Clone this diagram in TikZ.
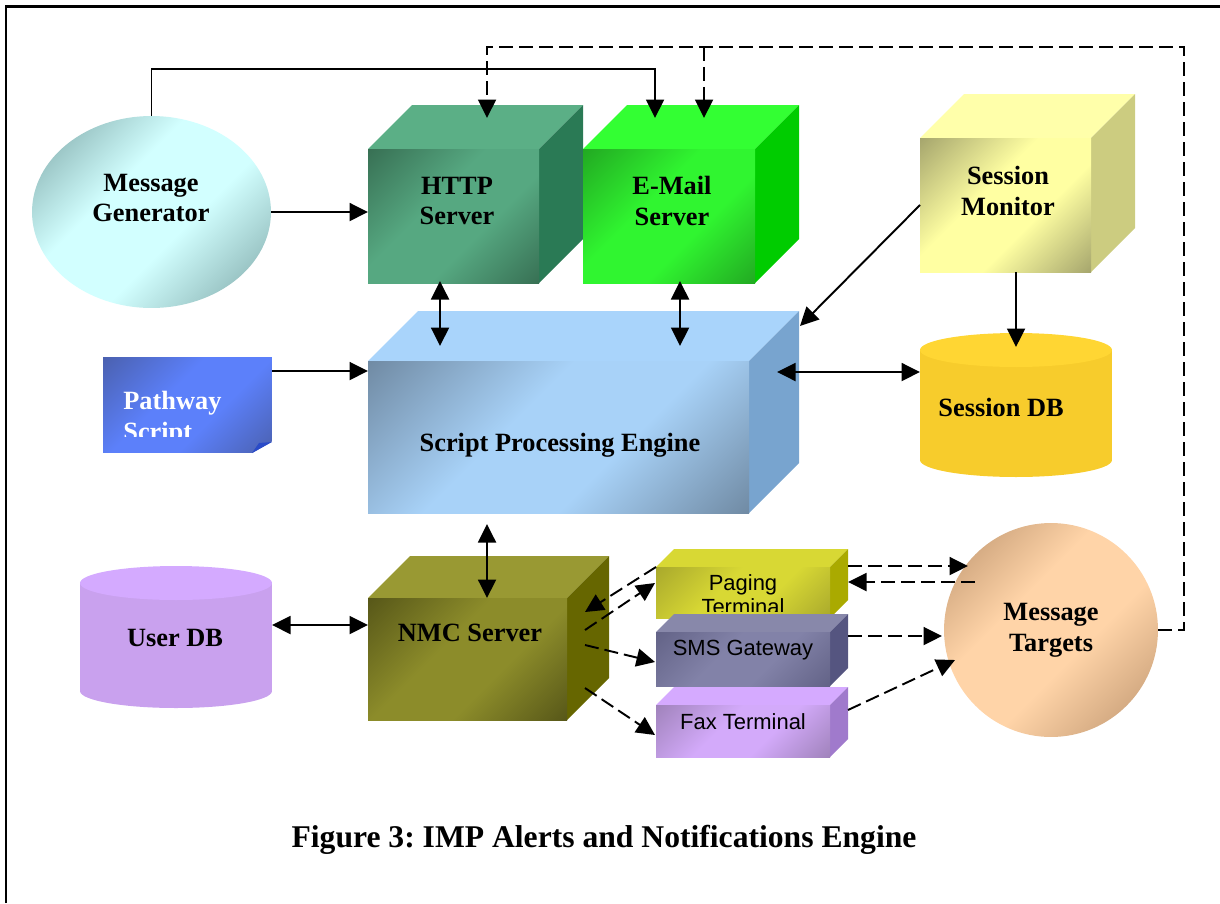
\documentclass[tikz,border=0pt]{standalone}
\usepackage{fontspec}
\setmainfont{Liberation Serif}
\newfontfamily\termfont{Liberation Sans}
\usetikzlibrary{arrows.meta,shapes.geometric}

\definecolor{httptop}{HTML}{5BAF86}
\definecolor{httpside}{HTML}{2A7A55}
\definecolor{httplight}{HTML}{56A881}
\definecolor{httpdark}{HTML}{376F53}
\definecolor{mailtop}{HTML}{33FF33}
\definecolor{mailside}{HTML}{00CC00}
\definecolor{maillight}{HTML}{30F530}
\definecolor{maildark}{HTML}{22A822}
\definecolor{montop}{HTML}{FFFFAA}
\definecolor{monside}{HTML}{CCCC80}
\definecolor{monlight}{HTML}{FFFFA2}
\definecolor{mondark}{HTML}{A4A46C}
\definecolor{engtop}{HTML}{A9D4FB}
\definecolor{engside}{HTML}{78A4CF}
\definecolor{englight}{HTML}{A8D2F8}
\definecolor{engdark}{HTML}{6F89A2}
\definecolor{nmctop}{HTML}{999933}
\definecolor{nmcside}{HTML}{666600}
\definecolor{nmclight}{HTML}{8C8C2A}
\definecolor{nmcdark}{HTML}{565618}
\definecolor{pagetop}{HTML}{D8D834}
\definecolor{pageside}{HTML}{AAAA00}
\definecolor{pagelight}{HTML}{D8D834}
\definecolor{pagedark}{HTML}{A8A82C}
\definecolor{smstop}{HTML}{8888AA}
\definecolor{smsside}{HTML}{555580}
\definecolor{smslight}{HTML}{8282A8}
\definecolor{smsdark}{HTML}{626286}
\definecolor{faxtop}{HTML}{D5AAFF}
\definecolor{faxside}{HTML}{A07ACC}
\definecolor{faxlight}{HTML}{D3AAFA}
\definecolor{faxdark}{HTML}{9F82BA}
\definecolor{genlight}{HTML}{D2FFFF}
\definecolor{gendark}{HTML}{7FA8A8}
\definecolor{tgtlight}{HTML}{FFD4A8}
\definecolor{tgtdark}{HTML}{BF9670}
\definecolor{pathlight}{HTML}{5C80FA}
\definecolor{pathdark}{HTML}{4A60AE}
\definecolor{pathfold}{HTML}{2A4BC8}
\definecolor{sdbtop}{HTML}{FFD633}
\definecolor{sdbbody}{HTML}{F7CC2C}
\definecolor{udbtop}{HTML}{D4AAFF}
\definecolor{udbbody}{HTML}{C9A1EE}

\pgfdeclarehorizontalshading{httpface}{100bp}{color(0bp)=(httpdark); color(14bp)=(httpdark); color(42bp)=(httplight); color(60bp)=(httplight); color(86bp)=(httpdark); color(100bp)=(httpdark)}
\pgfdeclarehorizontalshading{mailface}{100bp}{color(0bp)=(maildark); color(14bp)=(maildark); color(42bp)=(maillight); color(60bp)=(maillight); color(86bp)=(maildark); color(100bp)=(maildark)}
\pgfdeclarehorizontalshading{monface}{100bp}{color(0bp)=(mondark); color(14bp)=(mondark); color(42bp)=(monlight); color(60bp)=(monlight); color(86bp)=(mondark); color(100bp)=(mondark)}
\pgfdeclarehorizontalshading{engface}{100bp}{color(0bp)=(engdark); color(14bp)=(engdark); color(42bp)=(englight); color(60bp)=(englight); color(86bp)=(engdark); color(100bp)=(engdark)}
\pgfdeclarehorizontalshading{nmcface}{100bp}{color(0bp)=(nmcdark); color(14bp)=(nmcdark); color(42bp)=(nmclight); color(60bp)=(nmclight); color(86bp)=(nmcdark); color(100bp)=(nmcdark)}
\pgfdeclarehorizontalshading{pageface}{100bp}{color(0bp)=(pagedark); color(14bp)=(pagedark); color(42bp)=(pagelight); color(60bp)=(pagelight); color(86bp)=(pagedark); color(100bp)=(pagedark)}
\pgfdeclarehorizontalshading{smsface}{100bp}{color(0bp)=(smsdark); color(14bp)=(smsdark); color(42bp)=(smslight); color(60bp)=(smslight); color(86bp)=(smsdark); color(100bp)=(smsdark)}
\pgfdeclarehorizontalshading{faxface}{100bp}{color(0bp)=(faxdark); color(14bp)=(faxdark); color(42bp)=(faxlight); color(60bp)=(faxlight); color(86bp)=(faxdark); color(100bp)=(faxdark)}
\pgfdeclarehorizontalshading{genface}{100bp}{color(0bp)=(gendark); color(16bp)=(gendark); color(40bp)=(genlight); color(58bp)=(genlight); color(84bp)=(gendark); color(100bp)=(gendark)}
\pgfdeclarehorizontalshading{tgtface}{100bp}{color(0bp)=(tgtdark); color(16bp)=(tgtdark); color(40bp)=(tgtlight); color(58bp)=(tgtlight); color(84bp)=(tgtdark); color(100bp)=(tgtdark)}
\pgfdeclarehorizontalshading{pathface}{100bp}{color(0bp)=(pathdark); color(14bp)=(pathdark); color(42bp)=(pathlight); color(60bp)=(pathlight); color(86bp)=(pathdark); color(100bp)=(pathdark)}

\tikzset{
  front/.style={inner sep=0pt, outer sep=0pt},
  lbl/.style={font=\fontsize{15}{17.5}\selectfont\bfseries, align=center, inner sep=0pt},
  termlbl/.style={font=\termfont\fontsize{12.5}{13.5}\selectfont, align=center, inner sep=0pt},
  arr/.style={line width=1.1pt, -{Triangle[length=0.37cm,width=0.36cm]}},
  dbl/.style={line width=1.1pt, {Triangle[length=0.37cm,width=0.36cm]}-{Triangle[length=0.37cm,width=0.36cm]}},
  darr/.style={arr, dash pattern=on 0.28cm off 0.12cm},
}

% name, left, top, width, height, depth, colour prefix (all in px)
\newcommand{\drawcube}[7]{%
  \fill[#7top] (#2,#3) -- ++(#6,-#6) -- ++(#4,0) -- ++(-#6,#6) -- cycle;
  \fill[#7side] (#2+#4,#3) -- ++(#6,-#6) -- ++(0,#5) -- ++(-#6,#6) -- cycle;
  \node[front, shading=#7face, shading angle=-45,
    minimum width=#4*0.02cm, minimum height=#5*0.02cm]
    (#1) at (#2+#4/2,#3+#5/2) {};
}

% name, centre x, top y, bottom y, colour prefix (width 192 px)
\newcommand{\drawdb}[5]{%
  \fill[#5body] (#2-96,#3) rectangle (#2+96,#4);
  \fill[#5body] (#2,#4) ellipse [x radius=1.92cm, y radius=0.34cm];
  \fill[#5top] (#2,#3) ellipse [x radius=1.92cm, y radius=0.34cm];
  \node[front, minimum width=3.84cm, minimum height=(#4-#3+34)*0.02cm]
    (#1) at (#2,#3/2+#4/2) {};
}

\begin{document}
\begin{tikzpicture}[x=0.02cm,y=-0.02cm]
  \useasboundingbox (0,0) rectangle (1220,903);
  \draw[line width=0.06cm] (6,903) -- (6,6) -- (1220,6);

  % boxes
  \drawcube{http}{368}{149}{171}{134}{44}{http}
  \drawcube{email}{583}{149}{172}{134}{44}{mail}
  \drawcube{monitor}{920}{138}{171}{134}{44}{mon}
  \drawcube{engine}{368}{361}{381}{152}{50}{eng}
  \drawcube{nmc}{368}{598}{199}{122}{42}{nmc}
  \drawcube{paging}{656}{567}{174}{51}{18}{page}
  \drawcube{sms}{656}{632}{174}{54}{18}{sms}
  \drawcube{fax}{656}{705}{174}{52}{18}{fax}
  \drawdb{sessdb}{1016}{350}{460}{sdb}
  \drawdb{userdb}{176}{583}{691}{udb}

  \node[ellipse, inner sep=0pt, minimum width=4.78cm, minimum height=3.84cm,
    shading=genface, shading angle=-45] (gen) at (151.5,212) {};
  \node[circle, inner sep=0pt, minimum size=4.28cm,
    shading=tgtface, shading angle=-45] (targets) at (1051,630) {};
  \node[front, minimum width=3.38cm, minimum height=1.92cm,
    shading=pathface, shading angle=-45] (script) at (187.5,405) {};
  \fill[white] (251,454) -- (273,454) -- (273,441) -- cycle;
  \fill[pathfold] (252,453) -- (272,442) -- (259,443) -- cycle;

  % texts
  \node[lbl] (gentext) at (151,198) {Message\\Generator};
  \node[lbl] (httptext) at (457,201) {HTTP\\Server};
  \node[lbl] (mailtext) at (672,201) {E-Mail\\Server};
  \node[lbl] (montext) at (1008,191) {Session\\Monitor};
  \node[lbl] (enginetext) at (560,445) {Script Processing Engine};
  \node[lbl] (sessdbtext) at (1001,407) {Session DB};
  \node[lbl] (userdbtext) at (175,638) {User DB};
  \node[lbl] (nmctext) at (470,633) {NMC Server};
  \node[lbl] (targetstext) at (1051,630) {Message\\Targets};
  \begin{scope}
    \clip (103,357) rectangle (272,436);
    \node[lbl, text=white, align=left, anchor=west] (scripttext) at (123,419) {Pathway\\Script};
  \end{scope}
  \begin{scope}
    \clip (656,567) rectangle (830,611);
    \node[termlbl] (pagingtext) at (743,595) {Paging\\Terminal};
  \end{scope}
  \node[termlbl] (smstext) at (743,650) {SMS Gateway};
  \node[termlbl] (faxtext) at (743,722) {Fax Terminal};
  \node[font=\fontsize{18}{20}\selectfont\bfseries] (caption) at (604,840)
    {Figure 3:\ IMP Alerts and Notifications Engine};

  % connector ends
  \coordinate (mailA) at (655,118);
  \coordinate (httpB) at (487,118);
  \coordinate (mailB) at (704,118);
  \coordinate (httpS) at (440,281);
  \coordinate (engA) at (440,346);
  \coordinate (mailS) at (680,281);
  \coordinate (engB) at (680,346);
  \coordinate (engNE) at (800,326);
  \coordinate (monS) at (1016,272);
  \coordinate (sdbN) at (1016,347);
  \coordinate (engE) at (777,372);
  \coordinate (sdbW) at (920,372);
  \coordinate (scrE) at (272,371);
  \coordinate (engW) at (368,371);
  \coordinate (udbE) at (272,625);
  \coordinate (nmcW) at (368,625);
  \coordinate (engS) at (487,524);
  \coordinate (nmcN) at (487,598);

  \begin{scope}
    \draw[arr] (gen.east) -- (gen.east -| http.west);
    \draw[arr] (gen.north) -- ++(0,-47) -| (mailA);
    \draw[darr] (targets.east) -- (1184,630) -- (1184,47) -- (487,47) -- (httpB);
    \draw[darr] (704,47) -- (mailB);
    \draw[dbl] (httpS) -- (engA);
    \draw[dbl] (mailS) -- (engB);
    \draw[arr] (monitor.west) -- (engNE);
    \draw[arr] (monS) -- (sdbN);
    \draw[dbl] (engE) -- (sdbW);
    \draw[arr] (scrE) -- (engW);
    \draw[dbl] (udbE) -- (nmcW);
    \draw[dbl] (engS) -- (nmcN);
  \end{scope}
  \begin{scope}
    \draw[darr] (848,566) -- (968,566);
    \draw[darr] (975,582) -- (848,582);
    \draw[darr] (848,636) -- (942,636);
    \draw[darr] (848,710) -- (955,660);
    \draw[darr] (585,630) -- (655,583);
    \draw[darr] (656,567) -- (585,612);
    \draw[darr] (585,645) -- (655,662);
    \draw[darr] (585,688) -- (655,735);
  \end{scope}
\end{tikzpicture}
\end{document}
